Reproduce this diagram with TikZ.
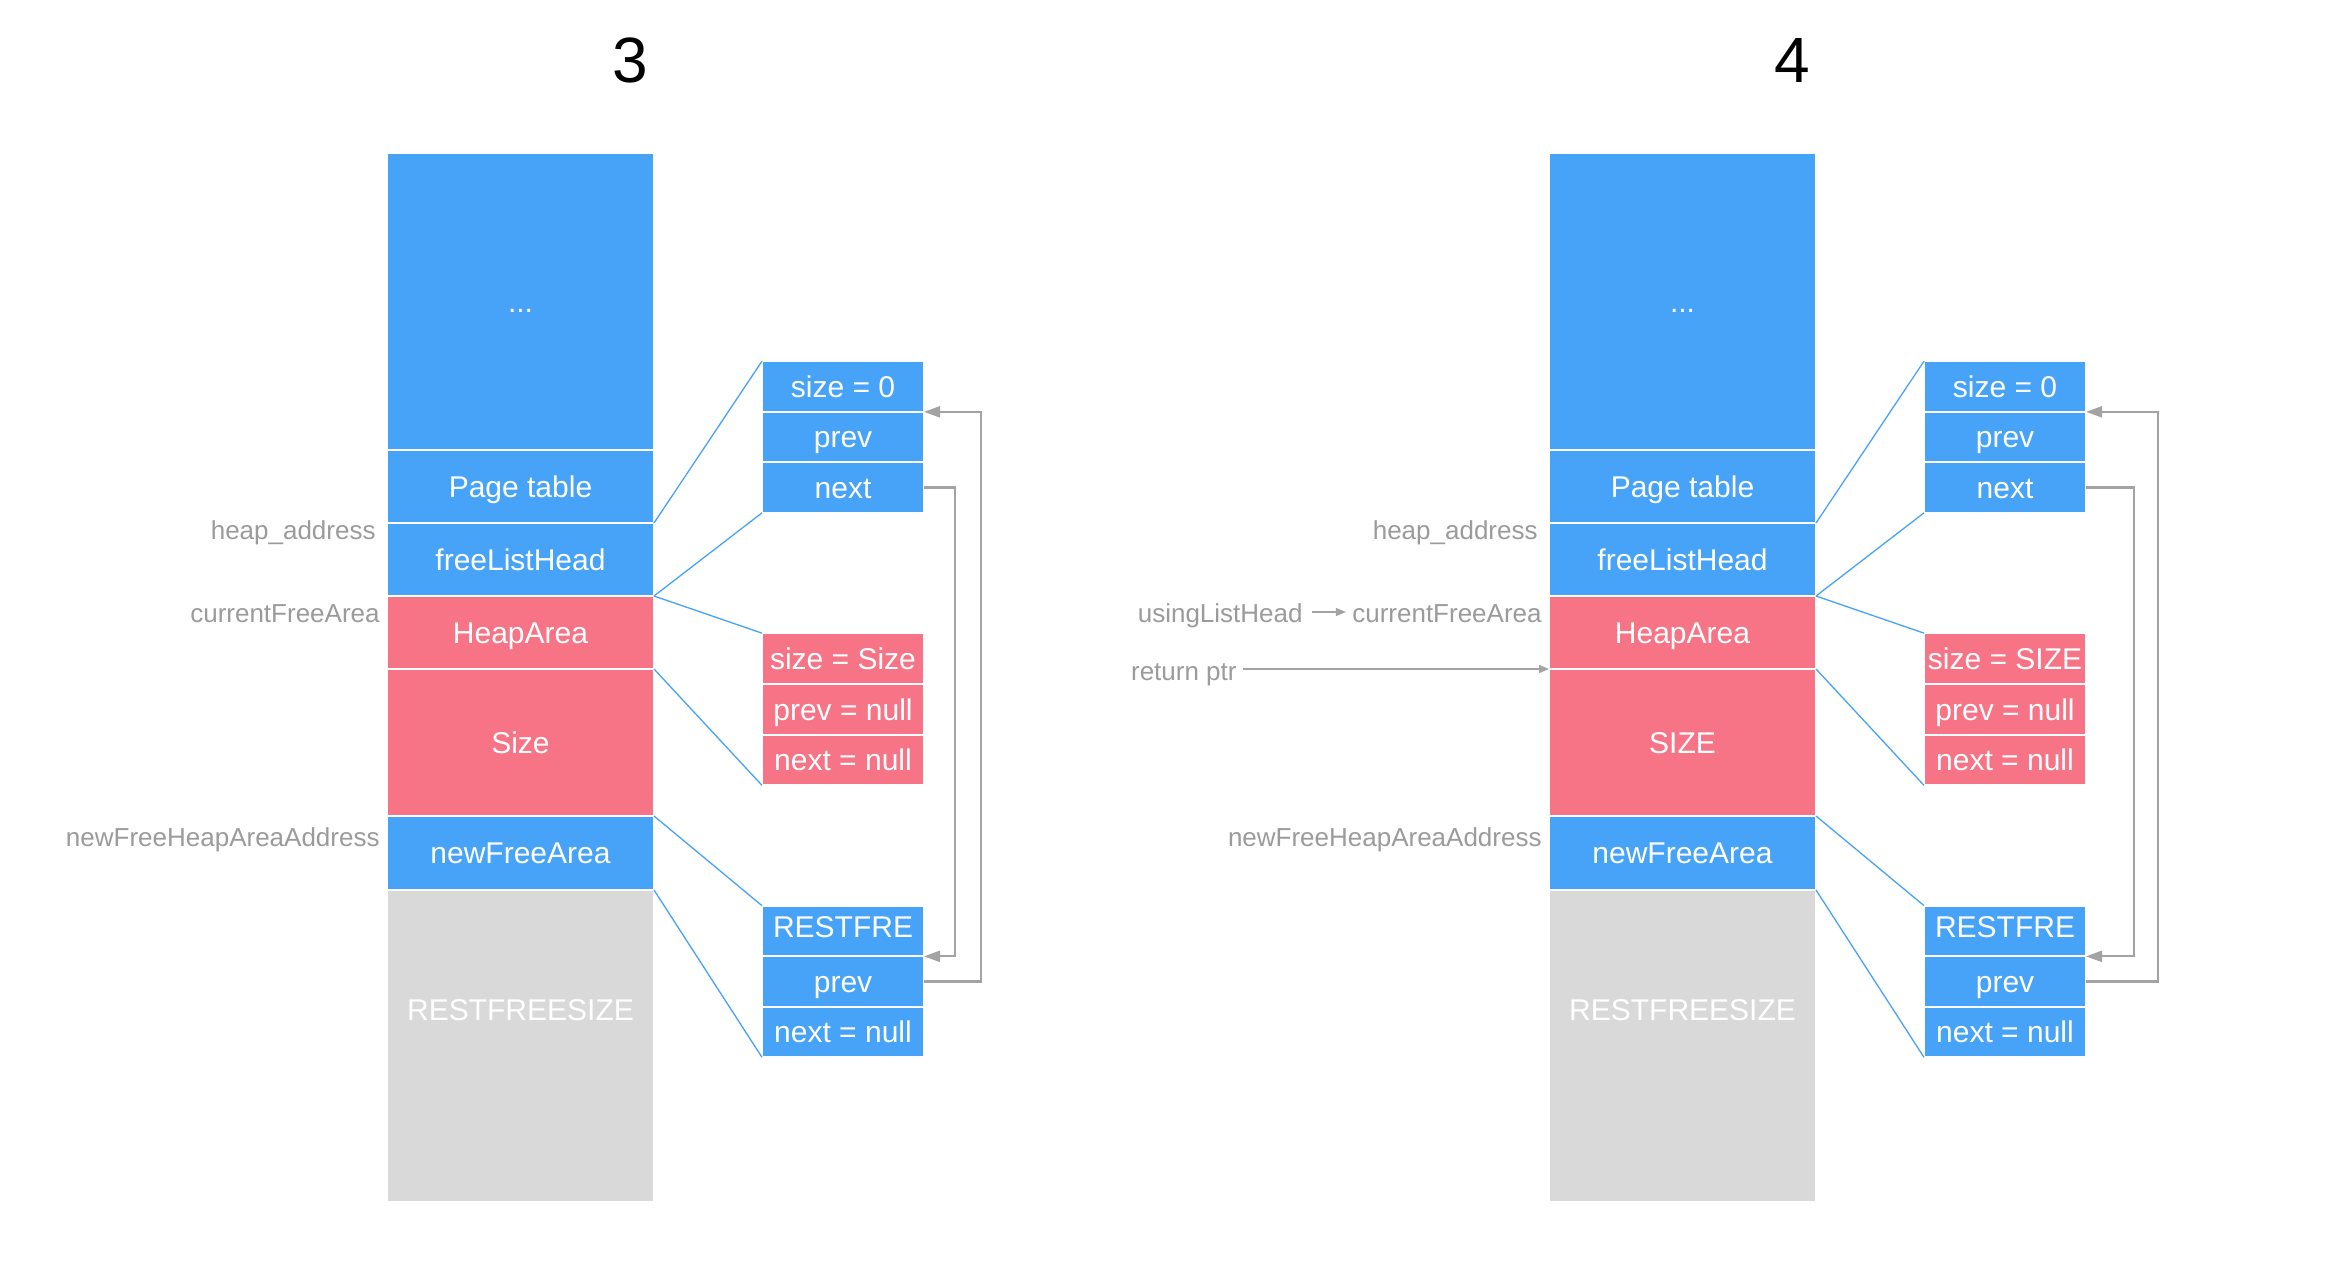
\documentclass[tikz,border=0pt]{standalone}
\usepackage{fontspec}
\setmainfont{Liberation Sans}
\usetikzlibrary{arrows.meta}
\definecolor{mblue}{HTML}{47A3F8}
\definecolor{mpink}{HTML}{F77486}
\definecolor{mgray}{HTML}{D9D9D9}
\definecolor{ltext}{HTML}{9B9B9B}
\definecolor{arr}{HTML}{A3A3A3}
\tikzset{
  cell/.style={rectangle, inner sep=0pt, outer sep=0pt, draw=white, line width=1pt,
    text=white, font=\fontsize{15}{18}\selectfont, text height=10.74pt, text depth=0pt},
  colcell/.style={cell, minimum width=133.5pt},
  fldcell/.style={cell, minimum width=81pt, minimum height=25.35pt},
  bluefill/.style={fill=mblue},
  pinkfill/.style={fill=mpink},
  grayfill/.style={fill=mgray},
  link/.style={draw=mblue, line width=0.65pt},
  ptr/.style={draw=arr, line width=1.1pt, -{Triangle[length=8pt,width=5.5pt]}},
  sptr/.style={draw=arr, line width=0.7pt, -{Triangle[length=5pt,width=4pt]}},
  lbl/.style={text=ltext, font=\fontsize{13}{15}\selectfont, inner sep=0pt, anchor=base east},
  titlelbl/.style={font=\fontsize{32}{38}\selectfont, text=black, inner sep=0pt},
}
% #1 prefix, #2 xshift, #3 size block text, #4 size field text, #5 inner gap, #6 outer gap, #7 title
\newcommand\memdiag[7]{%
\begin{scope}[shift={(#2,0)}]
  \node[titlelbl] (#1title) at (630,60) {#7};
  \node[colcell,bluefill,minimum height=148.5pt] (#1dots) at (520.5,301.5) {...};
  \node[colcell,bluefill,minimum height=36.5pt] (#1page) at (520.5,486.5) {Page table};
  \node[colcell,bluefill,minimum height=36.5pt] (#1flh) at (520.5,559.5) {freeListHead};
  \node[colcell,pinkfill,minimum height=36.5pt] (#1heap) at (520.5,632.5) {HeapArea};
  \node[colcell,pinkfill,minimum height=73.5pt] (#1size) at (520.5,742.5) {#3};
  \node[colcell,bluefill,minimum height=37pt] (#1nfa) at (520.5,853) {newFreeArea};
  \node[colcell,grayfill,minimum height=156pt] (#1rest) at (520.5,1046) {};
  \node[cell,draw=none] (#1resttxt) at (520.5,1010) {RESTFREESIZE};
  \node[fldcell,bluefill] (#1a1) at (843,386.5) {size = 0};
  \node[fldcell,bluefill] (#1a2) at (843,437) {prev};
  \node[fldcell,bluefill] (#1a3) at (843,487.5) {next};
  \node[fldcell,pinkfill] (#1b1) at (843,658.5) {size = #4};
  \node[fldcell,pinkfill] (#1b2) at (843,709.5) {prev = null};
  \node[fldcell,pinkfill] (#1b3) at (843,760) {next = null};
  \node[fldcell,bluefill,text depth=4pt] (#1c1) at (843,931) {RESTFRE};
  \node[fldcell,bluefill] (#1c2) at (843,981.5) {prev};
  \node[fldcell,bluefill] (#1c3) at (843,1032) {next = null};
  \draw[link] (#1page.south east) -- (#1a1.north west);
  \draw[link] (#1flh.south east) -- (#1a3.south west);
  \draw[link] (#1heap.north east) -- (#1b1.north west);
  \draw[link] (#1heap.south east) -- (#1b3.south west);
  \draw[link] (#1nfa.north east) -- (#1c1.north west);
  \draw[link] (#1nfa.south east) -- (#1c3.south west);
  \draw[ptr] (#1a3.east) -- ++(#5,0) |- (#1c1.south east);
  \draw[ptr] (#1c2.east) -- ++(#6,0) |- (#1a1.south east);
  \node[lbl] (#1lha) at (376,539) {heap\_address};
  \node[lbl] (#1lcfa) at (380,622.5) {currentFreeArea};
  \node[lbl] (#1lnfh) at (380,846.5) {newFreeHeapAreaAddress};
\end{scope}}
\begin{document}
\begin{tikzpicture}[x=0.5pt,y=-0.5pt]
  \useasboundingbox[fill=white] (0,0) rectangle (2350,1280);
  \memdiag{L}{0}{Size}{Size}{31}{57}{3}
  \memdiag{R}{1162}{SIZE}{SIZE}{48}{72}{4}
  \node[lbl] (ulh) at (1303,622.5) {usingListHead};
  \draw[sptr] ([shift={(9,-10.5)}]ulh.base east) -- ([shift={(-6,-10.5)}]Rlcfa.base west);
  \node[lbl] (rptr) at (1237,680) {return ptr};
  \draw[sptr] ([xshift=3pt]rptr.east |- Rheap.south west) -- (Rheap.south west);
\end{tikzpicture}
\end{document}
